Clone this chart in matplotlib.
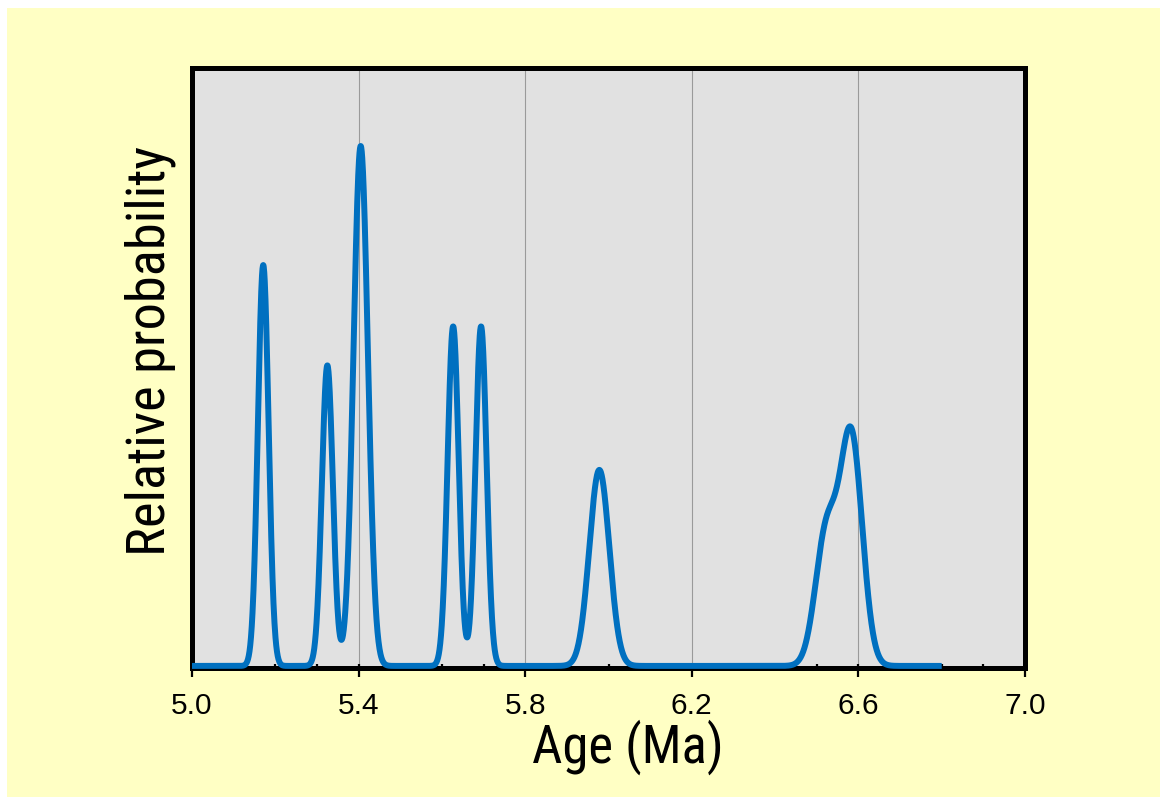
import numpy as np
import matplotlib
matplotlib.use("Agg")
import matplotlib.pyplot as plt
from matplotlib.patches import Rectangle
from matplotlib.ticker import MultipleLocator, FixedLocator
from matplotlib import font_manager

plt.rcParams['font.family'] = ['Liberation Sans', 'DejaVu Sans']
names = {f.name for f in font_manager.fontManager.ttflist}
narrow = None
for cand in ['Liberation Sans Narrow', 'Arial Narrow', 'Roboto Condensed',
             'PT Sans Narrow', 'Archivo Narrow']:
    if cand in names:
        narrow = cand
        break

# Data: peak ages (Ma), widths (1 sigma, Ma), relative heights
peak_ages = [5.171, 5.325, 5.405, 5.627, 5.694, 5.978, 6.523, 6.583]
peak_sigmas = [0.0128, 0.0132, 0.0173, 0.0133, 0.0133, 0.024, 0.0264, 0.0264]
peak_heights = [0.771, 0.578, 1.0, 0.653, 0.653, 0.377, 0.253, 0.439]
age_range = (5.0, 6.8)

x_ticks = [5.0, 5.4, 5.8, 6.2, 6.6, 7.0]
x_tick_labels = ["5.0", "5.4", "5.8", "6.2", "6.6", "7.0"]

W, H = 1166, 798
fig = plt.figure(figsize=(W / 100, H / 100), dpi=100)
fig.patch.set_facecolor('white')
fig.patches.append(Rectangle((7 / W, 1 - 797 / H), (1160 - 7) / W, (797 - 8) / H,
                             transform=fig.transFigure, facecolor='#ffffc4',
                             edgecolor='none', zorder=-10))

ax = fig.add_axes([192 / W, (H - 668) / H, (1025 - 192) / W, (668 - 68) / H])
ax.set_zorder(1)
ax.set_facecolor('#e1e1e1')

ages = np.linspace(age_range[0], age_range[1], 3000)
prob = np.zeros_like(ages)
for m, s, h in zip(peak_ages, peak_sigmas, peak_heights):
    prob += h * np.exp(-0.5 * ((ages - m) / s) ** 2)

ax.plot(ages, prob, color='#0070c0', lw=4.3, solid_capstyle='butt',
        clip_on=False, zorder=5)

ax.set_xlim(5.0, 7.0)
ax.set_ylim(-0.004, 1.15)

for gx in x_ticks[1:-1]:
    ax.axvline(gx, color='#9a9a9a', lw=0.8, zorder=1)

ax.xaxis.set_major_locator(FixedLocator(x_ticks))
ax.set_xticklabels(x_tick_labels)
ax.xaxis.set_minor_locator(MultipleLocator(0.1))
ax.xaxis.remove_overlapping_locs = False
ax.tick_params(axis='x', which='major', direction='out', length=6.5, width=1.6,
               labelsize=21.5, pad=11, colors='black')
ax.tick_params(axis='x', which='minor', direction='in', length=3, width=1.6)
ax.set_yticks([])

for sp in ax.spines.values():
    sp.set_linewidth(3.6)
    sp.set_color('black')
    sp.set_zorder(4)

lab_kw = dict(family=[narrow, 'DejaVu Sans']) if narrow else {}

xl = fig.text(628 / W, (H - 763) / H, "Age (Ma)", ha='center', va='baseline',
              fontsize=36, color='black', **lab_kw)
yl = fig.text(150 / W, 1 - 351 / H, "Relative probability", ha='center', va='center',
              rotation=90, fontsize=36, color='black', **lab_kw)

# fit label sizes to the lengths seen in the reference
r = fig.canvas.get_renderer()
bx = xl.get_window_extent(r)
xl.set_fontsize(36 * 192 / bx.width)
by = yl.get_window_extent(r)
yl.set_fontsize(36 * 410 / by.height)

fig.savefig("out.png", dpi=100, facecolor=fig.get_facecolor())
